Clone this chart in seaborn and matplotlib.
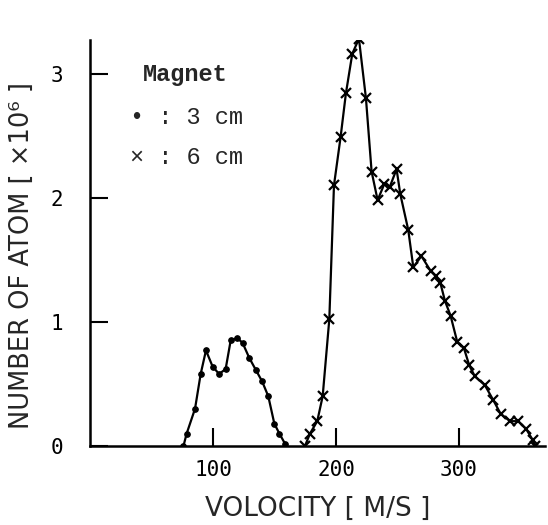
import matplotlib
matplotlib.use("Agg")
import matplotlib.pyplot as plt
import seaborn as sns
import pandas as pd

# 3 cm magnet (dots)
v3 = [76.0, 78.6, 85.4, 90.0, 94.3, 99.7, 105.0, 110.3, 114.4, 119.8, 124.1,
      129.5, 135.0, 140.0, 145.0, 149.9, 154.0, 158.5]
n3 = [0.00, 0.10, 0.30, 0.58, 0.77, 0.64, 0.58, 0.62, 0.85, 0.87, 0.83,
      0.71, 0.61, 0.52, 0.40, 0.18, 0.10, 0.02]

# 6 cm magnet (crosses)
v6 = [174.8, 178.9, 184.8, 189.2, 194.6, 198.4, 203.8, 208.1, 213.3, 218.7,
      224.4, 229.0, 233.9, 239.3, 243.9, 249.3, 252.3, 258.8, 262.9, 269.5,
      277.0, 281.0, 285.0, 288.6, 293.2, 298.6, 304.0, 308.4, 313.0, 321.1,
      327.9, 333.9, 341.5, 348.2, 354.5, 359.9, 361.8]
n6 = [0.00, 0.10, 0.20, 0.40, 1.02, 2.10, 2.49, 2.84, 3.16, 3.28,
      2.80, 2.21, 1.98, 2.11, 2.09, 2.23, 2.03, 1.74, 1.44, 1.53,
      1.41, 1.37, 1.31, 1.17, 1.05, 0.84, 0.79, 0.65, 0.56, 0.49,
      0.37, 0.26, 0.20, 0.20, 0.14, 0.05, 0.00]

xticks = [100, 200, 300]
yticks = [0, 1, 2, 3]
xlabel = "VOLOCITY [ M/S ]"
ylabel = "NUMBER OF ATOM [ ×10⁶ ]"
legend_title = "Magnet"
legend_lines = ["• : 3 cm", "× : 6 cm"]

sns.set_style("ticks")
plt.rcParams["font.family"] = ["DejaVu Sans Mono", "DejaVu Sans"]

fig = plt.figure(figsize=(5.48, 5.25), dpi=100)
W, H = 548, 525
ax = fig.add_axes([90 / W, 1 - 446 / H, (545 - 90) / W, (446 - 40) / H])

df3 = pd.DataFrame({"v": v3, "n": n3})
df6 = pd.DataFrame({"v": v6, "n": n6})
sns.lineplot(data=df3, x="v", y="n", ax=ax, color="black", lw=1.6,
             marker="o", markersize=4, markeredgewidth=0.8,
             markeredgecolor="black", estimator=None, sort=False)
sns.lineplot(data=df6, x="v", y="n", ax=ax, color="black", lw=1.6,
             marker="x", markersize=7, markeredgewidth=1.6,
             markeredgecolor="black", estimator=None, sort=False)

ax.set_xlim(0, 370)
ax.set_ylim(0, 3.27)
ax.set_xticks(xticks)
ax.set_yticks(yticks)
ax.tick_params(direction="in", length=13, width=1.5, labelsize=15,
               colors="black")
ax.tick_params(axis="x", pad=10)
ax.tick_params(axis="y", pad=19)
for s in ["top", "right"]:
    ax.spines[s].set_visible(False)
for s in ["left", "bottom"]:
    ax.spines[s].set_linewidth(1.8)
    ax.spines[s].set_color("black")

lab_font = ["DejaVu Sans"]
ax.set_xlabel(xlabel, fontsize=19, family=lab_font)
ax.set_ylabel(ylabel, fontsize=18.5, family=lab_font)
ax.xaxis.set_label_coords(0.5, -0.122)
ax.yaxis.set_label_coords(-0.121, 0.47)

mono = ["Liberation Mono", "DejaVu Sans Mono"]
fig.text(143 / W, 1 - 74 / H, legend_title, fontsize=17, family=mono,
         fontweight="bold", va="center", ha="left")
fig.text(130 / W, 1 - 117 / H, legend_lines[0], fontsize=17, family=mono,
         va="center", ha="left")
fig.text(130 / W, 1 - 158 / H, legend_lines[1], fontsize=17, family=mono,
         va="center", ha="left")

fig.savefig("out.png", dpi=100)
